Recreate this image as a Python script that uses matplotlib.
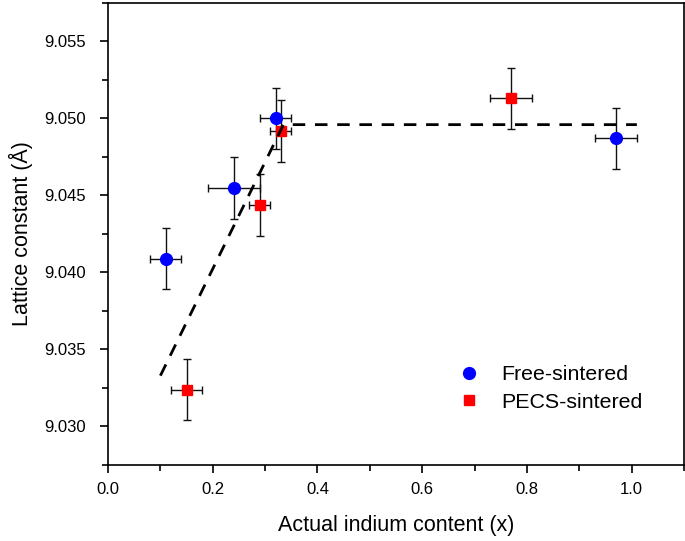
import matplotlib
matplotlib.use('Agg')
import matplotlib.pyplot as plt
from matplotlib.ticker import MultipleLocator

plt.rcParams['font.family'] = ['Liberation Sans', 'DejaVu Sans']

# free-sintered samples
free_x = [0.11, 0.24, 0.32, 0.97]
free_y = [9.0409, 9.0455, 9.0500, 9.0487]
free_xerr = [0.03, 0.05, 0.03, 0.04]
free_yerr = [0.002, 0.002, 0.002, 0.002]

# PECS-sintered samples
pecs_x = [0.15, 0.29, 0.33, 0.77]
pecs_y = [9.0324, 9.0444, 9.0492, 9.0513]
pecs_xerr = [0.03, 0.02, 0.02, 0.04]
pecs_yerr = [0.002, 0.002, 0.002, 0.002]

# guide line (Vegard's law + saturation)
guide_x = [0.10, 0.335, 1.01]
guide_y = [9.0333, 9.0496, 9.0496]

fig = plt.figure(figsize=(6.85, 5.41), dpi=100)
ax = fig.add_axes([0.1577, 0.1405, 0.8408, 0.854])

ax.errorbar(free_x, free_y, xerr=free_xerr, yerr=free_yerr, fmt='o', color='blue',
            markersize=8.5, ecolor='#111111', elinewidth=1, capsize=3, capthick=1,
            label='Free-sintered', zorder=3)
ax.errorbar(pecs_x, pecs_y, xerr=pecs_xerr, yerr=pecs_yerr, fmt='s', color='red',
            markersize=7.5, ecolor='#111111', elinewidth=1, capsize=3, capthick=1,
            label='PECS-sintered', zorder=3)
ax.plot(guide_x, guide_y, color='black', lw=2, linestyle=(0, (4.5, 3.5)), zorder=4)

ax.set_xlim(0, 1.1)
ax.set_ylim(9.0275, 9.0575)
ax.xaxis.set_major_locator(MultipleLocator(0.2))
ax.xaxis.set_minor_locator(MultipleLocator(0.1))
ax.yaxis.set_major_locator(MultipleLocator(0.005))
ax.yaxis.set_minor_locator(MultipleLocator(0.0025))
ax.xaxis.set_major_formatter(matplotlib.ticker.FormatStrFormatter('%.1f'))
ax.yaxis.set_major_formatter(matplotlib.ticker.FormatStrFormatter('%.3f'))

ax.tick_params(which='both', direction='out', top=False, right=False, width=1.2)
ax.tick_params(which='major', length=6, labelsize=12)
ax.tick_params(axis='y', which='major', pad=10)
ax.tick_params(axis='x', which='major', pad=6)
ax.tick_params(which='minor', length=4)
for s in ax.spines.values():
    s.set_linewidth(1.2)

ax.set_xlabel('Actual indium content (x)', fontsize=15.5, labelpad=13)
ax.set_ylabel('Lattice constant (Å)', fontsize=15.5, labelpad=8)

handles, labels = ax.get_legend_handles_labels()
handles = [h[0] for h in handles]
ax.legend(handles, labels, loc='upper left', bbox_to_anchor=(0.608, 0.216),
          frameon=False, fontsize=15.4, handlelength=1, handletextpad=1.0,
          borderpad=0, borderaxespad=0, labelspacing=0.4)

fig.savefig('out.png', dpi=100)
